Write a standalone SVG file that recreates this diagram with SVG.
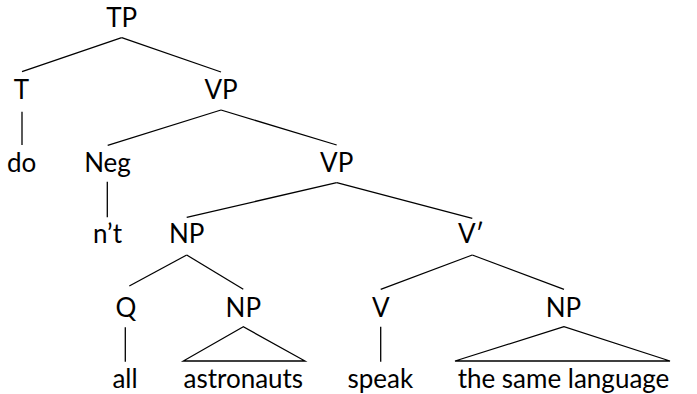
<svg xmlns="http://www.w3.org/2000/svg" width="697" height="394" viewBox="0 0 697 394">
<style>
text{font-family:Lato,"Open Sans","Liberation Sans",sans-serif;font-size:26px;fill:#000;text-anchor:middle}
.e line,.e polygon{stroke:#000;stroke-width:1.3;fill:none}
</style>
<rect width="697" height="394" fill="#fff"/>
<g class="e" id="connectors">
<line x1="121.7" y1="37.7" x2="22" y2="71.7"/>
<line x1="121.7" y1="37.7" x2="221" y2="72"/>
<line x1="22" y1="111.7" x2="22" y2="145"/>
<line x1="221" y1="110" x2="107.7" y2="145.3"/>
<line x1="221" y1="110" x2="336.7" y2="145"/>
<line x1="107.3" y1="181.7" x2="107.3" y2="217.3"/>
<line x1="336.7" y1="182.7" x2="186.7" y2="217.3"/>
<line x1="336.7" y1="182.7" x2="472.3" y2="218.3"/>
<line x1="186.7" y1="255" x2="129.3" y2="286"/>
<line x1="186.7" y1="255" x2="243.3" y2="289.3"/>
<line x1="472.3" y1="255" x2="380.7" y2="289.3"/>
<line x1="472.3" y1="255" x2="564" y2="289.3"/>
<line x1="125.3" y1="327.3" x2="125.3" y2="361.7"/>
<line x1="380.7" y1="326.7" x2="380.7" y2="361.7"/>
<polygon points="243.3,326.7 183.3,361 305,361"/>
<polygon points="564,326.7 455,361 670,361"/>
</g>
<g id="n-TP"><text x="121.7" y="27">TP</text></g>
<g id="n-T"><text x="21.5" y="99">T</text></g>
<g id="n-VP1"><text x="221" y="99">VP</text></g>
<g id="n-do"><text x="21.7" y="171.5">do</text></g>
<g id="n-Neg"><text x="107.5" y="171.5">Neg</text></g>
<g id="n-VP2"><text x="336.7" y="171.5">VP</text></g>
<g id="n-nt"><text x="107.5" y="243.3">n’t</text></g>
<g id="n-NP1"><text x="186.7" y="243.3">NP</text></g>
<g id="n-Vbar"><text x="471" y="243.3">V′</text></g>
<g id="n-Q"><text x="126" y="316.7">Q</text></g>
<g id="n-NP2"><text x="243.3" y="316.7">NP</text></g>
<g id="n-V"><text x="380.7" y="316.7">V</text></g>
<g id="n-NP3"><text x="563.5" y="316.7">NP</text></g>
<g id="n-all"><text x="125" y="388.3">all</text></g>
<g id="n-astronauts"><text x="243.3" y="388.3">astronauts</text></g>
<g id="n-speak"><text x="380.3" y="388.3">speak</text></g>
<g id="n-lang"><text x="563.5" y="388.3">the same language</text></g>
</svg>
